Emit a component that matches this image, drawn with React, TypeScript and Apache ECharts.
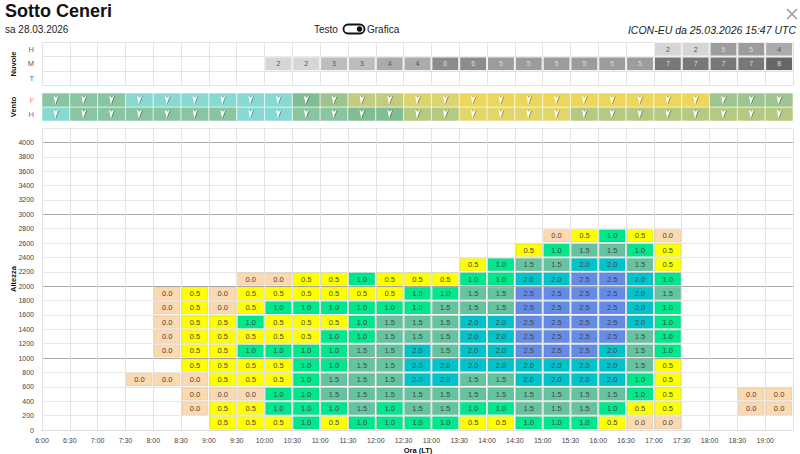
import React, { useEffect, useRef } from 'react';
import * as echarts from 'echarts';

// ---------- data ----------
const timeTicks = ['6:00','6:30','7:00','7:30','8:00','8:30','9:00','9:30','10:00','10:30','11:00','11:30','12:00','12:30','13:00','13:30','14:00','14:30','15:00','15:30','16:00','16:30','17:00','17:30','18:00','18:30','19:00'];
const bandStep = 200;
const altitudeMax = 4200;

// vertical velocity per half-hour column, bands of 200 m from the ground upward (null = no value)
const N = null;
const liftColumns: (number | null)[][] = [
  [],
  [],
  [],
  [N, N, N, 0.0],
  [N, N, N, 0.0, N, 0.0, 0.0, 0.0, 0.0, 0.0],
  [N, 0.0, 0.0, 0.0, 0.5, 0.5, 0.5, 0.5, 0.5, 0.5],
  [0.5, 0.5, 0.0, 0.5, 0.5, 0.5, 0.5, 0.5, 0.0, 0.0],
  [0.5, 0.5, 0.0, 0.5, 0.5, 1.0, 0.5, 1.0, 0.5, 0.5, 0.0],
  [0.5, 1.0, 1.0, 0.5, 0.5, 1.0, 0.5, 0.5, 1.0, 0.5, 0.0],
  [1.0, 1.0, 1.0, 1.0, 1.0, 1.0, 0.5, 0.5, 1.0, 0.5, 0.5],
  [0.5, 1.0, 1.5, 1.5, 1.0, 1.0, 1.0, 0.5, 1.0, 0.5, 0.5],
  [1.0, 1.5, 1.5, 1.5, 1.5, 1.5, 1.0, 1.0, 1.0, 0.5, 1.0],
  [1.0, 1.0, 1.5, 1.5, 1.5, 1.5, 1.5, 1.5, 1.0, 0.5, 0.5],
  [1.0, 1.5, 1.5, 2.0, 2.0, 2.0, 1.5, 1.5, 1.0, 1.0, 0.5],
  [1.0, 1.5, 1.5, 2.0, 2.0, 1.5, 1.5, 1.5, 1.5, 1.0, 0.5],
  [0.5, 1.0, 1.5, 1.5, 2.0, 2.0, 2.0, 2.0, 1.5, 1.5, 1.0, 0.5],
  [0.5, 1.0, 1.5, 1.5, 2.0, 2.0, 2.0, 2.0, 1.5, 1.5, 1.0, 1.0],
  [1.0, 1.5, 1.5, 2.0, 2.0, 2.5, 2.5, 2.5, 2.5, 2.5, 2.0, 1.5, 0.5],
  [1.0, 1.5, 1.5, 2.0, 2.0, 2.5, 2.5, 2.5, 2.5, 2.5, 2.0, 1.5, 1.0, 0.0],
  [1.0, 1.5, 1.5, 2.0, 2.0, 2.5, 2.5, 2.5, 2.5, 2.5, 2.5, 2.0, 1.5, 0.5],
  [0.5, 1.0, 1.5, 2.0, 2.0, 2.0, 2.5, 2.5, 2.5, 2.5, 2.5, 2.0, 1.5, 1.0],
  [0.0, 0.5, 1.0, 1.0, 1.5, 1.5, 1.5, 2.0, 2.0, 2.0, 2.0, 1.5, 1.0, 0.5],
  [0.0, 0.5, 0.5, 0.5, 0.5, 1.0, 1.0, 1.0, 1.0, 1.5, 1.0, 0.5, 0.5, 0.0],
  [],
  [],
  [N, 0.0, 0.0],
  [N, 0.0, 0.0],
];

// cloud cover (octas) per column: H (high), M (mid), T (low)
const cloudRows = ['T', 'M', 'H'];
const cloudH = [N,N,N,N,N,N,N,N,N,N,N,N,N,N,N,N,N,N,N,N,N,N,2,2,5,5,4];
const cloudM = [N,N,N,N,N,N,N,N,2,2,3,3,4,4,6,6,5,5,5,5,5,5,7,7,7,7,8];
const cloudT = [N,N,N,N,N,N,N,N,N,N,N,N,N,N,N,N,N,N,N,N,N,N,N,N,N,N,N];

// wind class per column: F (free atmosphere), H (height)
const windRows = ['H', 'F'];
const windF = ['g','g','g','c','c','c','c','c','c','d','l','o','o','y1','y1','y','y','y','y','y','y','y','y','y','l2','l2','l2'];
const windH = ['c','g','g','g','g','g','g','c','c','g','g','d','d','ol','ol','y2','y2','y2','y2','ol','ol','ol','ol','ol','ol','ol','ol'];

// ---------- styling helpers ----------
const liftColor = (v: number) =>
  v < 0.25 ? '#fdd9b0' : v < 0.75 ? '#ffff00' : v < 1.25 ? '#00e88c' : v < 1.75 ? '#64c4a0' : v < 2.25 ? '#00c4cc' : '#648ce6';
const cloudColor: Record<number, string> = { 1: '#e4e4e4', 2: '#d6d6d6', 3: '#bdbdbd', 4: '#ababab', 5: '#9c9c9c', 6: '#8c8c8c', 7: '#787878', 8: '#666666' };
const windPalette: Record<string, string> = {
  g: '#88c5a0', c: '#86dad2', d: '#80bd91', l: '#9cc48c', o: '#c2cb80',
  y1: '#dcd46e', y: '#ecd75c', l2: '#9dc58f', y2: '#e2d66a', ol: '#b6c982',
};
const FONT = "'Liberation Sans', Arial, Helvetica, sans-serif";

export default function App() {
  const ref = useRef<HTMLDivElement>(null);
  useEffect(() => {
    if (!ref.current) return;
    const chart = echarts.init(ref.current, undefined, { renderer: 'svg' });

    const liftData: number[][] = [];
    liftColumns.forEach((col, i) => col.forEach((v, j) => { if (v !== null) liftData.push([i, j * bandStep, v]); }));

    const cloudCells: { i: number; r: number; v: number }[] = [];
    [cloudT, cloudM, cloudH].forEach((row, r) => row.forEach((v, i) => { if (v !== null) cloudCells.push({ i, r, v }); }));

    const windCells: { i: number; r: number; k: string }[] = [];
    [windH, windF].forEach((row, r) => row.forEach((k, i) => windCells.push({ i, r, k })));

    const nCols = timeTicks.length;
    const hLineColors = Array.from({ length: altitudeMax / bandStep + 1 }, (_, k) => (k > 0 && k % 5 === 0 ? '#a9a9a9' : '#e8e8e8'));

    const xBase = (gi: number) => ({
      type: 'value', gridIndex: gi, min: 0, max: nCols, interval: 1,
      axisLine: { show: false }, axisTick: { show: false }, axisLabel: { show: false },
      splitLine: { show: true, lineStyle: { color: '#e3e3e3', width: 1 } },
    });

    const option: any = {
      animation: false,
      textStyle: { fontFamily: FONT },
      grid: [
        { left: 42, right: 7, top: 42, height: 43.5 },
        { left: 42, right: 7, top: 93, height: 28 },
        { left: 42, right: 7, top: 128, bottom: 24 },
      ],
      xAxis: [
        xBase(0),
        { ...xBase(1), splitLine: { show: false } },
        {
          ...xBase(2),
          axisLine: { show: true, lineStyle: { color: '#dddddd' } },
          axisLabel: { show: true, fontSize: 7, color: '#444', margin: 7, fontFamily: FONT,
            formatter: (v: number) => timeTicks[v] ?? '' },
        },
      ],
      yAxis: [
        {
          type: 'category', gridIndex: 0, data: cloudRows, boundaryGap: true,
          axisLine: { show: false }, axisTick: { show: false },
          axisLabel: { fontSize: 7.5, margin: 8, fontFamily: FONT, color: (v: string) => (v === 'M' ? '#555' : '#4d6396') },
          splitLine: { show: true, lineStyle: { color: '#e3e3e3' } },
        },
        {
          type: 'category', gridIndex: 1, data: windRows, boundaryGap: true,
          axisLine: { show: false }, axisTick: { show: false },
          axisLabel: { fontSize: 7.5, margin: 8, fontFamily: FONT, color: (v: string) => (v === 'F' ? '#e0946a' : '#5872b8') },
          splitLine: { show: false },
        },
        {
          type: 'value', gridIndex: 2, min: 0, max: altitudeMax, interval: bandStep,
          axisLine: { show: false }, axisTick: { show: false },
          axisLabel: { fontSize: 7, color: '#444', margin: 8, fontFamily: FONT,
            formatter: (v: number) => (v > 4000 ? '' : String(v)) },
          splitLine: { show: true, lineStyle: { color: hLineColors, width: 1 } },
        },
      ],
      series: [
        {
          type: 'custom', xAxisIndex: 0, yAxisIndex: 0,
          data: cloudCells.map((c) => [c.i, c.r, c.v]),
          renderItem: (params: any, api: any) => {
            const c = cloudCells[params.dataIndex];
            const p = api.coord([c.i + 0.5, c.r]);
            const s = api.size([1, 1]);
            return {
              type: 'rect',
              shape: { x: p[0] - s[0] / 2 + 0.5, y: p[1] - s[1] / 2 + 0.5, width: s[0] - 1, height: s[1] - 1 },
              style: { fill: cloudColor[c.v], stroke: '#f2f2f2', lineWidth: 1 },
              textContent: { style: { text: String(c.v), fontSize: 7, fontFamily: FONT, fill: c.v >= 5 ? '#dddddd' : '#555' } },
              textConfig: { position: 'inside' },
            };
          },
        },
        {
          type: 'custom', xAxisIndex: 1, yAxisIndex: 1,
          data: windCells.map((c) => [c.i, c.r]),
          renderItem: (params: any, api: any) => {
            const c = windCells[params.dataIndex];
            const p = api.coord([c.i + 0.5, c.r]);
            const s = api.size([1, 1]);
            return {
              type: 'group',
              children: [
                {
                  type: 'rect',
                  shape: { x: p[0] - s[0] / 2, y: p[1] - s[1] / 2, width: s[0], height: s[1] },
                  style: { fill: windPalette[c.k], stroke: 'rgba(255,255,255,0.55)', lineWidth: 1 },
                },
                {
                  type: 'polygon', x: p[0], y: p[1],
                  shape: { points: [[-2.3, -4.5], [0.2, -2.3], [2.6, -4.3], [-0.7, 4.3]] },
                  style: { fill: '#ffffff', shadowColor: 'rgba(0,0,0,0.45)', shadowBlur: 1, shadowOffsetX: 1 },
                },
              ],
            };
          },
        },
        {
          type: 'custom', xAxisIndex: 2, yAxisIndex: 2,
          data: liftData,
          renderItem: (params: any, api: any) => {
            const i = api.value(0), h = api.value(1), v = api.value(2);
            const p0 = api.coord([i, h + bandStep]);
            const p1 = api.coord([i + 1, h]);
            return {
              type: 'rect',
              shape: { x: p0[0] + 1, y: p0[1] + 1, width: p1[0] - p0[0] - 2, height: p1[1] - p0[1] - 2 },
              style: { fill: liftColor(v), stroke: 'rgba(0,0,0,0.08)', lineWidth: 1 },
              textContent: { style: { text: v.toFixed(1), fontSize: 7.5, fontFamily: FONT, fill: '#444' } },
              textConfig: { position: 'inside' },
            };
          },
        },
      ],
      graphic: [
        { type: 'text', left: 5, top: 2, style: { text: 'Sotto Ceneri', font: `bold 18px ${FONT}`, fill: '#111' } },
        { type: 'text', left: 5, top: 24, style: { text: 'sa 28.03.2026', font: `10px ${FONT}`, fill: '#222' } },
        { type: 'text', left: 314, top: 24, style: { text: 'Testo', font: `10px ${FONT}`, fill: '#222' } },
        { type: 'rect', shape: { x: 343.5, y: 24.5, width: 21, height: 9, r: 4.5 }, style: { fill: 'none', stroke: '#111', lineWidth: 1.8 } },
        { type: 'circle', shape: { cx: 359.5, cy: 29, r: 2.8 }, style: { fill: '#111' } },
        { type: 'text', left: 367, top: 24, style: { text: 'Grafica', font: `10px ${FONT}`, fill: '#222' } },
        { type: 'text', right: 4, top: 24, style: { text: 'ICON-EU da 25.03.2026 15:47 UTC', font: `italic 10.5px ${FONT}`, fill: '#222' } },
        { type: 'line', shape: { x1: 787, y1: 9, x2: 797, y2: 19 }, style: { stroke: '#9a9a9a', lineWidth: 1.5 } },
        { type: 'line', shape: { x1: 797, y1: 9, x2: 787, y2: 19 }, style: { stroke: '#9a9a9a', lineWidth: 1.5 } },
        { type: 'text', x: 13, y: 64, rotation: Math.PI / 2, style: { text: 'Nuvole', font: `bold 7.5px ${FONT}`, fill: '#111', align: 'center', verticalAlign: 'middle' } },
        { type: 'text', x: 13, y: 107, rotation: Math.PI / 2, style: { text: 'Vento', font: `bold 7.5px ${FONT}`, fill: '#111', align: 'center', verticalAlign: 'middle' } },
        { type: 'text', x: 13, y: 279, rotation: Math.PI / 2, style: { text: 'Altezza', font: `bold 7.5px ${FONT}`, fill: '#111', align: 'center', verticalAlign: 'middle' } },
        { type: 'text', x: 418, y: 450, style: { text: 'Ora (LT)', font: `bold 7.5px ${FONT}`, fill: '#111', align: 'center', verticalAlign: 'middle' } },
      ],
    };
    chart.setOption(option);
    return () => chart.dispose();
  }, []);

  return <div ref={ref} style={{ position: 'fixed', left: 0, top: 0, width: 800, height: 454, background: '#fff' }} />;
}
